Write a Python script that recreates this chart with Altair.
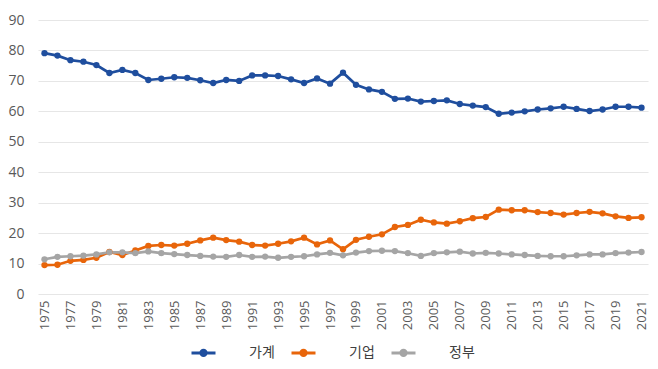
import altair as alt
import pandas as pd

years = list(range(1975, 2022))

household = [79.1, 78.3, 76.8, 76.3, 75.2, 72.6, 73.6, 72.6, 70.3, 70.7,
             71.2, 71.0, 70.2, 69.3, 70.3, 70.0, 71.8, 71.8, 71.6, 70.5,
             69.3, 70.8, 69.1, 72.7, 68.7, 67.2, 66.4, 64.1, 64.2, 63.2,
             63.4, 63.6, 62.4, 61.9, 61.4, 59.2, 59.6, 60.0, 60.6, 61.0,
             61.5, 60.8, 60.1, 60.6, 61.5, 61.5, 61.2]

corporate = [9.5, 9.6, 10.9, 11.2, 11.9, 13.8, 12.8, 14.3, 15.8, 16.1,
             15.9, 16.5, 17.6, 18.5, 17.7, 17.2, 16.1, 15.9, 16.5, 17.3,
             18.5, 16.3, 17.6, 14.7, 17.8, 18.8, 19.6, 22.0, 22.7, 24.4,
             23.5, 23.1, 23.9, 24.9, 25.3, 27.7, 27.5, 27.5, 26.9, 26.6,
             26.1, 26.6, 27.0, 26.5, 25.5, 25.0, 25.2]

government = [11.4, 12.2, 12.4, 12.6, 13.0, 13.7, 13.7, 13.4, 14.0, 13.4,
              13.1, 12.8, 12.5, 12.3, 12.2, 12.8, 12.2, 12.3, 11.9, 12.2,
              12.4, 13.0, 13.5, 12.7, 13.6, 14.1, 14.2, 14.1, 13.4, 12.5,
              13.4, 13.7, 13.9, 13.3, 13.5, 13.3, 13.0, 12.8, 12.5, 12.4,
              12.4, 12.7, 13.0, 13.0, 13.4, 13.6, 13.8]

series_names = ["가계", "기업", "정부"]
series_colors = ["#1f4e9e", "#e8650a", "#a5a5a5"]
y_ticks = [0, 10, 20, 30, 40, 50, 60, 70, 80, 90]
x_labels = [str(y) for y in years if (y - 1975) % 2 == 0]

rows = []
for name, vals in zip(series_names, [household, corporate, government]):
    for yr, v in zip(years, vals):
        rows.append({"year": str(yr), "value": v, "series": name})
df = pd.DataFrame(rows)

legend_symbol = "M-1,0L1,0M-0.22,0A0.22,0.22 0 1,0 0.22,0A0.22,0.22 0 1,0 -0.22,0Z"

chart = alt.Chart(df).mark_line(
    strokeWidth=2.7,
    point=alt.OverlayMarkDef(filled=True, size=40),
).encode(
    x=alt.X("year:O", scale=alt.Scale(type="point", padding=0.5),
            axis=alt.Axis(title=None, labelAngle=-90, values=x_labels,
                          labelFontSize=13, labelColor="#595959",
                          labelFont="Open Sans", labelPadding=6,
                          ticks=False, domain=False, labelBaseline="middle",
                          labelAlign="right")),
    y=alt.Y("value:Q", scale=alt.Scale(domain=[0, 90]),
            axis=alt.Axis(title=None, values=y_ticks, labelFontSize=14,
                          labelColor="#595959", labelFont="Open Sans",
                          labelPadding=14, ticks=False, domain=False,
                          gridColor="#e6e6e6", gridWidth=1.2)),
    color=alt.Color("series:N",
                    scale=alt.Scale(domain=series_names, range=series_colors),
                    legend=alt.Legend(title=None, orient="none",
                                      direction="horizontal",
                                      legendX=152, legendY=319,
                                      symbolType=legend_symbol,
                                      symbolSize=576, symbolStrokeWidth=3,
                                      labelFontSize=14, labelColor="#404040",
                                      labelFont="Noto Sans CJK KR",
                                      labelOffset=32, columnPadding=10)),
).properties(
    width=610,
    height=274,
    padding={"left": 30, "top": 12, "right": 2, "bottom": 67},
    autosize=alt.AutoSizeParams(type="none"),
).configure_view(stroke=None)

chart.save("out.html", embed_options={"renderer": "svg", "actions": False})
